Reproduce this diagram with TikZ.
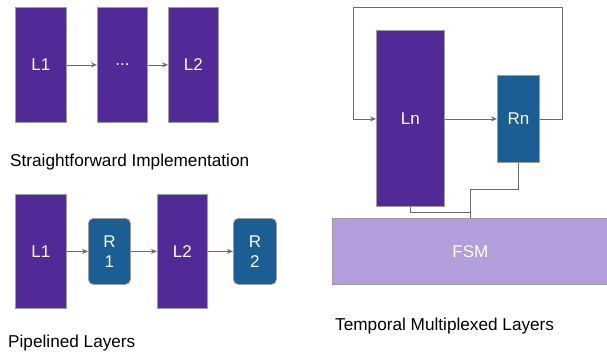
\documentclass[tikz,border=0pt]{standalone}
\usepackage{fontspec}
\setmainfont{Liberation Sans}
\usetikzlibrary{arrows.meta}
\definecolor{lpurple}{HTML}{512A97}
\definecolor{rblue}{HTML}{1A5E94}
\definecolor{fsmc}{HTML}{B39DDB}
\definecolor{bord}{HTML}{9E9E9E}
\definecolor{conncol}{HTML}{6B6B6B}
\tikzset{
  layer/.style={draw=bord, line width=0.8pt, fill=lpurple, text=white, font=\fontsize{17}{20}\selectfont, inner sep=0pt, anchor=north west},
  reg/.style={draw=bord, line width=0.8pt, fill=rblue, text=white, font=\fontsize{17}{20}\selectfont, inner sep=0pt, anchor=north west, align=center},
  wire/.style={draw=conncol, line width=0.8pt},
  arr/.style={wire, -{Stealth[length=6pt,width=5pt]}},
  captxt/.style={font=\fontsize{17.2}{20}\selectfont, anchor=west, inner sep=0pt}
}
\begin{document}
\begin{tikzpicture}[x=1pt,y=-1pt]
\useasboundingbox (0,0) rectangle (607,356);
% Straightforward
\node[layer, minimum width=51pt, minimum height=115pt] (a1) at (15,7) {L1};
\node[layer, minimum width=50pt, minimum height=115pt] (a2) at (97,7) {...};
\node[layer, minimum width=50pt, minimum height=115pt] (a3) at (168,7) {L2};
\draw[arr] (a1) -- (a2);
\draw[arr] (a2) -- (a3);
\node[captxt] (c1) at (10,162) {Straightforward Implementation};
% Pipelined
\node[layer, minimum width=51pt, minimum height=114pt] (b1) at (15,194) {L1};
\node[reg, rounded corners=5pt, minimum width=42pt, minimum height=66pt] (r1) at (88,218) {R\\1};
\node[layer, minimum width=50pt, minimum height=114pt] (b2) at (157,194) {L2};
\node[reg, rounded corners=5pt, minimum width=43pt, minimum height=66pt] (r2) at (233,218) {R\\2};
\draw[arr] (b1) -- (r1);
\draw[arr] (r1) -- (b2);
\draw[arr] (b2) -- (r2);
\node[captxt] (c2) at (8,343) {Pipelined Layers};
% Temporal
\node[draw=bord, line width=0.8pt, fill=fsmc, text=white, font=\fontsize{17}{20}\selectfont, inner sep=0pt, anchor=north west, minimum width=277pt, minimum height=66pt, text width=277pt, align=center] (fsm) at (332,218) {\hspace*{-3pt}FSM\hspace*{-2pt}};
\node[layer, minimum width=68pt, minimum height=176pt] (ln) at (376,30) {Ln};
\node[reg, minimum width=42pt, minimum height=87pt] (rn) at (497,75) {Rn};
\draw[arr] (ln.east |- rn.west) -- (rn.west);
\coordinate (lp) at (353,7);
\coordinate (rp) at (562,7);
\draw[arr] (rn.east) -| (rp) -- (lp) |- (ln.west |- rn.west);
\coordinate (j) at (470.7,218);
\draw[wire] (rn.south) |- (j |- 0,189.3) -- (j);
\draw[wire] (ln.south) |- (j |- 0,212.3);
\node[captxt] (c3) at (335,326) {Temporal Multiplexed Layers};
\end{tikzpicture}
\end{document}
